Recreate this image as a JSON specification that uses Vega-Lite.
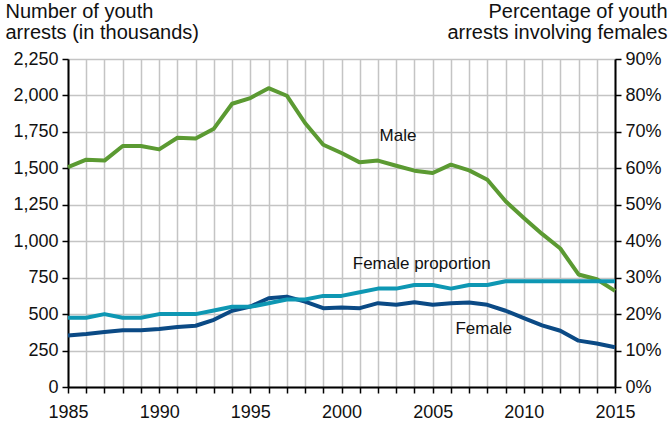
{
  "$schema": "https://vega.github.io/schema/vega-lite/v6.json",
  "width": 547,
  "height": 328,
  "autosize": {"type": "none"},
  "padding": {"left": 68, "top": 59, "right": 57, "bottom": 37},
  "background": "white",
  "config": {
    "view": {"stroke": null},
    "font": "Liberation Sans",
    "axis": {
      "labelFont": "Liberation Sans",
      "titleFont": "Liberation Sans",
      "labelFontSize": 18,
      "titleFontSize": 20,
      "titleFontWeight": "normal",
      "labelColor": "#111111",
      "titleColor": "#111111",
      "domainColor": "#000000",
      "domainWidth": 2,
      "ticks": true,
      "tickColor": "#000000",
      "tickSize": 6,
      "tickWidth": 1.5,
      "gridColor": "#c4c4c4",
      "gridWidth": 1.5,
      "gridOpacity": 1
    }
  },
  "datasets": {
    "arrests": [
      {"year": 1985, "sex": "Male", "arrests": 1509},
      {"year": 1986, "sex": "Male", "arrests": 1559},
      {"year": 1987, "sex": "Male", "arrests": 1553},
      {"year": 1988, "sex": "Male", "arrests": 1653},
      {"year": 1989, "sex": "Male", "arrests": 1653},
      {"year": 1990, "sex": "Male", "arrests": 1630},
      {"year": 1991, "sex": "Male", "arrests": 1710},
      {"year": 1992, "sex": "Male", "arrests": 1705},
      {"year": 1993, "sex": "Male", "arrests": 1772},
      {"year": 1994, "sex": "Male", "arrests": 1943},
      {"year": 1995, "sex": "Male", "arrests": 1982},
      {"year": 1996, "sex": "Male", "arrests": 2050},
      {"year": 1997, "sex": "Male", "arrests": 1998},
      {"year": 1998, "sex": "Male", "arrests": 1811},
      {"year": 1999, "sex": "Male", "arrests": 1662},
      {"year": 2000, "sex": "Male", "arrests": 1605},
      {"year": 2001, "sex": "Male", "arrests": 1541},
      {"year": 2002, "sex": "Male", "arrests": 1553},
      {"year": 2003, "sex": "Male", "arrests": 1518},
      {"year": 2004, "sex": "Male", "arrests": 1484},
      {"year": 2005, "sex": "Male", "arrests": 1468},
      {"year": 2006, "sex": "Male", "arrests": 1525},
      {"year": 2007, "sex": "Male", "arrests": 1486},
      {"year": 2008, "sex": "Male", "arrests": 1422},
      {"year": 2009, "sex": "Male", "arrests": 1274},
      {"year": 2010, "sex": "Male", "arrests": 1160},
      {"year": 2011, "sex": "Male", "arrests": 1050},
      {"year": 2012, "sex": "Male", "arrests": 950},
      {"year": 2013, "sex": "Male", "arrests": 772},
      {"year": 2014, "sex": "Male", "arrests": 739},
      {"year": 2015, "sex": "Male", "arrests": 659},
      {"year": 1985, "sex": "Female", "arrests": 354},
      {"year": 1986, "sex": "Female", "arrests": 364},
      {"year": 1987, "sex": "Female", "arrests": 377},
      {"year": 1988, "sex": "Female", "arrests": 389},
      {"year": 1989, "sex": "Female", "arrests": 389},
      {"year": 1990, "sex": "Female", "arrests": 398},
      {"year": 1991, "sex": "Female", "arrests": 411},
      {"year": 1992, "sex": "Female", "arrests": 420},
      {"year": 1993, "sex": "Female", "arrests": 461},
      {"year": 1994, "sex": "Female", "arrests": 523},
      {"year": 1995, "sex": "Female", "arrests": 552},
      {"year": 1996, "sex": "Female", "arrests": 609},
      {"year": 1997, "sex": "Female", "arrests": 620},
      {"year": 1998, "sex": "Female", "arrests": 586},
      {"year": 1999, "sex": "Female", "arrests": 541},
      {"year": 2000, "sex": "Female", "arrests": 545},
      {"year": 2001, "sex": "Female", "arrests": 541},
      {"year": 2002, "sex": "Female", "arrests": 575},
      {"year": 2003, "sex": "Female", "arrests": 564},
      {"year": 2004, "sex": "Female", "arrests": 582},
      {"year": 2005, "sex": "Female", "arrests": 564},
      {"year": 2006, "sex": "Female", "arrests": 575},
      {"year": 2007, "sex": "Female", "arrests": 580},
      {"year": 2008, "sex": "Female", "arrests": 564},
      {"year": 2009, "sex": "Female", "arrests": 523},
      {"year": 2010, "sex": "Female", "arrests": 473},
      {"year": 2011, "sex": "Female", "arrests": 423},
      {"year": 2012, "sex": "Female", "arrests": 386},
      {"year": 2013, "sex": "Female", "arrests": 318},
      {"year": 2014, "sex": "Female", "arrests": 298},
      {"year": 2015, "sex": "Female", "arrests": 273}
    ],
    "proportion": [
      {"year": 1985, "pct": 0.19},
      {"year": 1986, "pct": 0.19},
      {"year": 1987, "pct": 0.20},
      {"year": 1988, "pct": 0.19},
      {"year": 1989, "pct": 0.19},
      {"year": 1990, "pct": 0.20},
      {"year": 1991, "pct": 0.20},
      {"year": 1992, "pct": 0.20},
      {"year": 1993, "pct": 0.21},
      {"year": 1994, "pct": 0.22},
      {"year": 1995, "pct": 0.22},
      {"year": 1996, "pct": 0.23},
      {"year": 1997, "pct": 0.24},
      {"year": 1998, "pct": 0.24},
      {"year": 1999, "pct": 0.25},
      {"year": 2000, "pct": 0.25},
      {"year": 2001, "pct": 0.26},
      {"year": 2002, "pct": 0.27},
      {"year": 2003, "pct": 0.27},
      {"year": 2004, "pct": 0.28},
      {"year": 2005, "pct": 0.28},
      {"year": 2006, "pct": 0.27},
      {"year": 2007, "pct": 0.28},
      {"year": 2008, "pct": 0.28},
      {"year": 2009, "pct": 0.29},
      {"year": 2010, "pct": 0.29},
      {"year": 2011, "pct": 0.29},
      {"year": 2012, "pct": 0.29},
      {"year": 2013, "pct": 0.29},
      {"year": 2014, "pct": 0.29},
      {"year": 2015, "pct": 0.29}
    ],
    "labels": [
      {"year": 2003.1, "arrests": 1720, "label": "Male"},
      {"year": 2004.4, "arrests": 845, "label": "Female proportion"},
      {"year": 2007.8, "arrests": 395, "label": "Female"}
    ]
  },
  "encoding": {
    "x": {
      "field": "year",
      "type": "quantitative",
      "scale": {"domain": [1985, 2015], "nice": false, "zero": false},
      "axis": {
        "title": null,
        "values": [1985,1986,1987,1988,1989,1990,1991,1992,1993,1994,1995,1996,1997,1998,1999,2000,2001,2002,2003,2004,2005,2006,2007,2008,2009,2010,2011,2012,2013,2014,2015],
        "format": "d",
        "labelExpr": "datum.value % 5 === 0 ? datum.label : ''",
        "labelPadding": 10,
        "labelOverlap": false,
        "labelFlush": false,
        "ticks": true,
        "grid": true
      }
    }
  },
  "layer": [
    {
      "encoding": {
        "y": {
          "field": "arrests",
          "type": "quantitative",
          "scale": {"domain": [0, 2250], "nice": false},
          "axis": {
            "title": ["Number of youth", "arrests (in thousands)"],
            "titleAngle": 0,
            "titleAlign": "left",
            "titleBaseline": "alphabetic",
            "titleX": -63,
            "titleY": -42,
            "titleLineHeight": 21,
            "values": [0, 250, 500, 750, 1000, 1250, 1500, 1750, 2000, 2250],
            "format": ",d",
            "labelPadding": 4,
            "ticks": true,
            "grid": true
          }
        }
      },
      "layer": [
        {
          "data": {"name": "arrests"},
          "mark": {"type": "line", "strokeWidth": 4, "strokeJoin": "round"},
          "encoding": {
            "color": {
              "field": "sex",
              "type": "nominal",
              "scale": {"domain": ["Male", "Female"], "range": ["#5b9a32", "#0b4a85"]},
              "legend": null
            }
          }
        },
        {
          "data": {"name": "labels"},
          "mark": {"type": "text", "fontSize": 17, "font": "Liberation Sans", "color": "#111111", "align": "center", "baseline": "middle"},
          "encoding": {
            "text": {"field": "label"}
          }
        }
      ]
    },
    {
      "data": {"name": "proportion"},
      "mark": {"type": "line", "strokeWidth": 4, "strokeJoin": "round", "color": "#0e97b3"},
      "encoding": {
        "y": {
          "field": "pct",
          "type": "quantitative",
          "scale": {"domain": [0, 0.9], "nice": false},
          "axis": {
            "orient": "right",
            "title": ["Percentage of youth", "arrests involving females"],
            "titleAngle": 0,
            "titleAlign": "right",
            "titleBaseline": "alphabetic",
            "titleX": 52,
            "titleY": -42,
            "titleLineHeight": 21,
            "values": [0, 0.1, 0.2, 0.3, 0.4, 0.5, 0.6, 0.7, 0.8, 0.9],
            "format": ".0%",
            "labelPadding": 4,
            "ticks": true,
            "grid": false
          }
        }
      }
    }
  ],
  "resolve": {"scale": {"y": "independent"}}
}
